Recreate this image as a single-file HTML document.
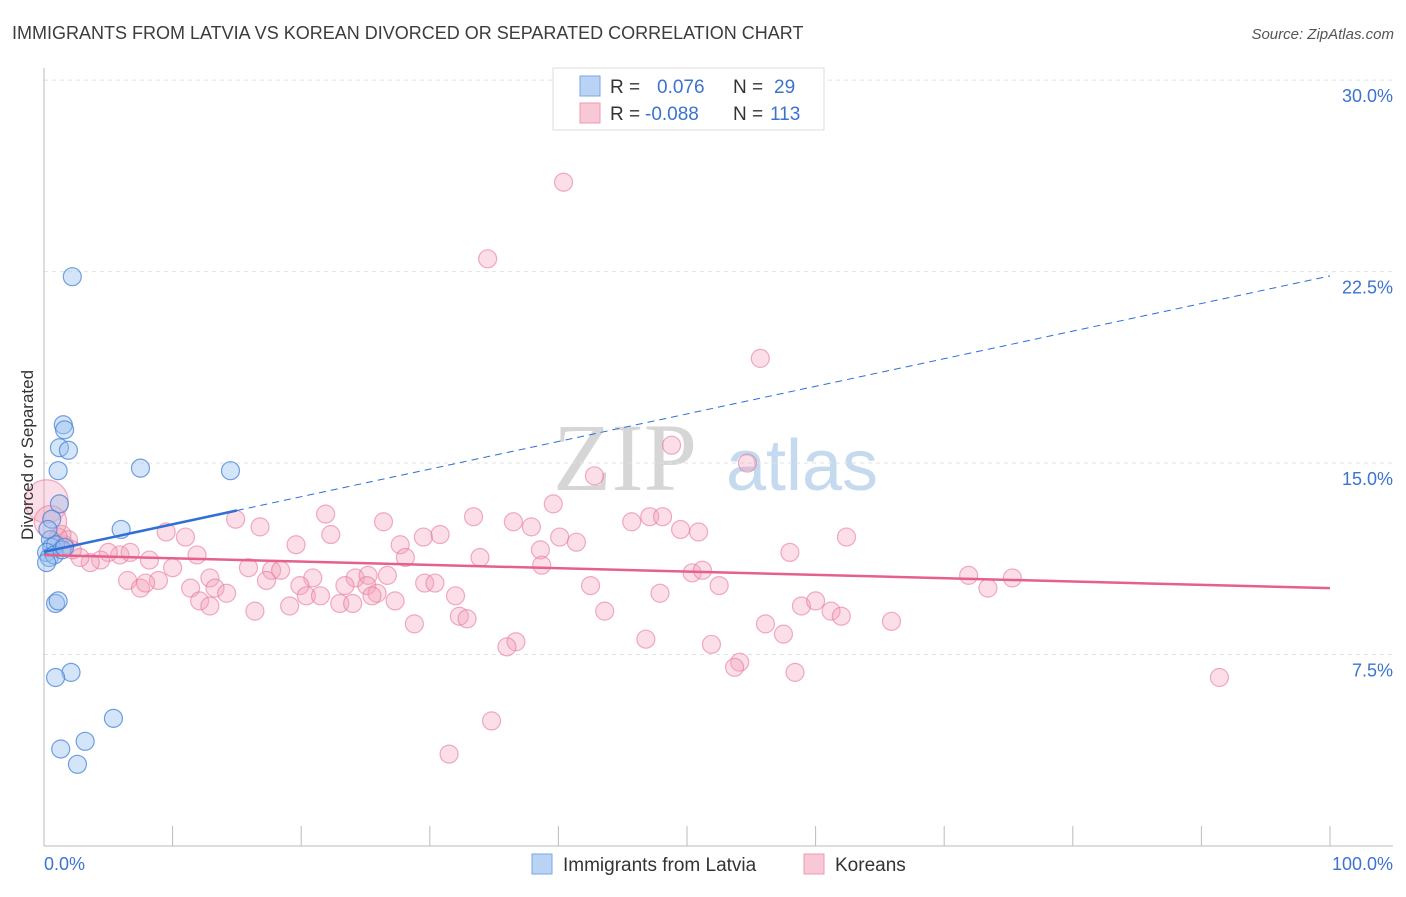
<!DOCTYPE html>
<html><head><meta charset="utf-8"><style>
body{margin:0;background:#fff;font-family:"Liberation Sans",sans-serif;}
svg text{font-family:"Liberation Sans",sans-serif;}
</style></head><body>
<svg id="chart" width="1406" height="892" viewBox="0 0 1406 892" xmlns="http://www.w3.org/2000/svg">
<text x="12" y="39" font-size="18" fill="#3c3c3c">IMMIGRANTS FROM LATVIA VS KOREAN DIVORCED OR SEPARATED CORRELATION CHART</text>
<text x="1394" y="39" font-size="15" font-style="italic" fill="#555" text-anchor="end">Source: ZipAtlas.com</text>
<g>
<text x="625" y="490" font-size="96" font-family="Liberation Serif,serif" fill="#d6d6d6" text-anchor="middle" style="font-family:'Liberation Serif',serif">ZIP</text>
<text x="802" y="490" font-size="72" fill="#c5d9ef" text-anchor="middle">atlas</text>
</g>
<g id="grid"></g>
<g id="axes"></g>
<g id="pink"></g>
<g id="blue"></g>
<g id="lines"></g>
<text transform="translate(33,455) rotate(-90)" font-size="17" fill="#333" text-anchor="middle">Divorced or Separated</text>
<g>
<rect x="553" y="68" width="271" height="62" fill="#fff" stroke="#ddd"/>
<rect x="580" y="76" width="20" height="20" fill="#b9d3f5" stroke="#7aa7e0"/>
<rect x="580" y="103" width="20" height="20" fill="#f9c8d6" stroke="#eb9ab2"/>
<text x="610" y="93" font-size="19" fill="#333">R =</text>
<text x="657" y="93" font-size="19" fill="#3b73d1">0.076</text>
<text x="733" y="93" font-size="19" fill="#333">N =</text>
<text x="774" y="93" font-size="19" fill="#3b73d1">29</text>
<text x="610" y="120" font-size="19" fill="#333">R =</text>
<text x="645" y="120" font-size="19" fill="#3b73d1">-0.088</text>
<text x="733" y="120" font-size="19" fill="#333">N =</text>
<text x="770" y="120" font-size="19" fill="#3b73d1">113</text>
</g>
<g>
<rect x="532" y="854" width="20" height="20" fill="#b9d3f5" stroke="#7aa7e0"/>
<text x="563" y="871" font-size="19" fill="#333">Immigrants from Latvia</text>
<rect x="804" y="854" width="20" height="20" fill="#f9c8d6" stroke="#eb9ab2"/>
<text x="835" y="871" font-size="19" fill="#333">Koreans</text>
</g>
</svg>
<script>
const yTicks=[7.5,15,22.5,30];
const yTickLabels=["7.5%","15.0%","22.5%","30.0%"];
const xTickCount=10;
const xLabels=["0.0%","100.0%"];
const blueX=[2.2,1.5,1.6,1.2,1.9,1.1,7.5,14.5,1.2,6.0,0.6,0.5,0.6,0.9,0.2,0.4,0.8,1.4,0.2,0.9,1.1,2.1,0.9,5.4,1.3,3.2,2.6,0.3,1.6];
const blueY=[22.3,16.5,16.3,15.6,15.5,14.7,14.8,14.7,13.4,12.4,12.8,12.0,11.7,11.8,11.5,11.3,11.4,11.6,11.1,9.5,9.6,6.8,6.6,5.0,3.8,4.1,3.2,12.4,11.7];
const pinkX=[40.4,34.5,55.7,48.8,42.8,54.7,39.6,14.9,9.5,16.8,21.9,22.3,26.4,33.4,36.5,37.9,40.1,41.4,45.7,47.1,48.1,49.5,50.9,62.4,11.0,19.6,27.7,29.5,30.8,33.9,38.6,38.7,58.0,11.9,8.2,5.9,5.0,4.4,3.6,2.8,2.2,1.6,1.9,1.4,1.1,6.7,10.0,15.9,17.7,18.4,12.9,20.9,24.2,25.2,26.7,28.1,6.5,8.9,7.5,7.9,13.3,11.4,14.2,17.3,19.9,20.4,21.5,23.4,25.1,25.9,27.3,29.6,30.4,32.0,42.5,50.4,51.2,52.5,47.9,71.9,73.4,75.3,12.1,12.9,16.4,19.1,23.0,24.0,25.5,32.3,32.9,43.6,58.9,60.0,61.2,62.0,28.8,36.7,36.0,46.8,51.9,56.1,57.5,65.9,54.1,53.7,58.4,91.4,34.8,31.5,0.2,0.5];
const pinkY=[26.0,23.0,19.1,15.7,14.5,15.0,13.4,12.8,12.3,12.5,13.0,12.2,12.7,12.9,12.7,12.5,12.1,11.9,12.7,12.9,12.9,12.4,12.3,12.1,12.1,11.8,11.8,12.1,12.2,11.3,11.6,11.0,11.5,11.4,11.2,11.4,11.5,11.2,11.1,11.3,11.6,11.8,12.0,12.2,12.1,11.5,10.9,10.9,10.8,10.8,10.5,10.5,10.5,10.6,10.6,11.3,10.4,10.4,10.1,10.3,10.1,10.1,9.9,10.4,10.2,9.8,9.8,10.2,10.2,9.9,9.6,10.3,10.3,9.8,10.2,10.7,10.8,10.2,9.9,10.6,10.1,10.5,9.6,9.4,9.2,9.4,9.5,9.5,9.8,9.0,8.9,9.2,9.4,9.6,9.2,9.0,8.7,8.0,7.8,8.1,7.9,8.7,8.3,8.8,7.2,7.0,6.8,6.6,4.9,3.6,13.5,12.7];
const pinkSize=pinkX.map((v,i)=>i>=pinkX.length-2?(i==pinkX.length-2?2.4:1.8):1);
const blueTrend=[11.52,22.33]; // y at x=0, x=100
const blueSolidEnd=15;
const pinkTrend=[11.4,10.1];

const X0=44,X1=1330,Y0=846,PXPER=25.53;
const sx=v=>X0+(X1-X0)*v/100;
const sy=v=>Y0-v*PXPER;
const NS="http://www.w3.org/2000/svg";
function mk(tag,attrs,parent){const e=document.createElementNS(NS,tag);for(const k in attrs)e.setAttribute(k,attrs[k]);parent.appendChild(e);return e;}
const grid=document.getElementById('grid'),axes=document.getElementById('axes');
yTicks.forEach((t,i)=>{
 const l=mk('line',{x1:X0,x2:1393,y1:sy(t),y2:sy(t),stroke:'#e2e2e2','stroke-dasharray':'4,4'},grid);
 
 
 const tx=mk('text',{x:1393,y:sy(t)+22,'font-size':18,fill:'#3b73d1','text-anchor':'end'},axes);
 tx.textContent=yTickLabels[i];
 
 
});
const ya=mk('line',{x1:X0,x2:X0,y1:68,y2:Y0,stroke:'#bbb'},axes);


const xa=mk('line',{x1:X0,x2:1393,y1:Y0,y2:Y0,stroke:'#bbb'},axes);


for(let i=0;i<=xTickCount;i++){
 const t=mk('line',{x1:sx(i*10),x2:sx(i*10),y1:826,y2:Y0,stroke:'#bbb'},axes);
 
 
}
const xl0=mk('text',{x:44,y:870,'font-size':18,fill:'#3b73d1'},axes);xl0.textContent=xLabels[0];


const xl1=mk('text',{x:1393,y:870,'font-size':18,fill:'#3b73d1','text-anchor':'end'},axes);xl1.textContent=xLabels[1];


const pg=document.getElementById('pink');
pinkX.forEach((x,i)=>{
 const c=mk('circle',{cx:sx(x),cy:sy(pinkY[i]),r:9*pinkSize[i],fill:'rgba(244,160,186,0.35)',stroke:'rgba(232,120,155,0.6)','stroke-width':1.2},pg);
 
 
});
const bg=document.getElementById('blue');
blueX.forEach((x,i)=>{
 const c=mk('circle',{cx:sx(x),cy:sy(blueY[i]),r:9,fill:'rgba(150,190,240,0.4)',stroke:'rgba(70,130,215,0.75)','stroke-width':1.2},bg);
 
 
});
const lg=document.getElementById('lines');
const bAt=x=>blueTrend[0]+(blueTrend[1]-blueTrend[0])*x/100;
const bs=mk('line',{x1:sx(0),y1:sy(bAt(0)),x2:sx(blueSolidEnd),y2:sy(bAt(blueSolidEnd)),stroke:'#2f6fd6','stroke-width':2.5},lg);


const bd=mk('line',{x1:sx(blueSolidEnd),y1:sy(bAt(blueSolidEnd)),x2:sx(100),y2:sy(bAt(100)),stroke:'#2f6fd6','stroke-width':1,'stroke-dasharray':'7,5'},lg);


const pl=mk('line',{x1:sx(0),y1:sy(pinkTrend[0]),x2:sx(100),y2:sy(pinkTrend[1]),stroke:'#e5608c','stroke-width':2.5},lg);


</script>
</body></html>
